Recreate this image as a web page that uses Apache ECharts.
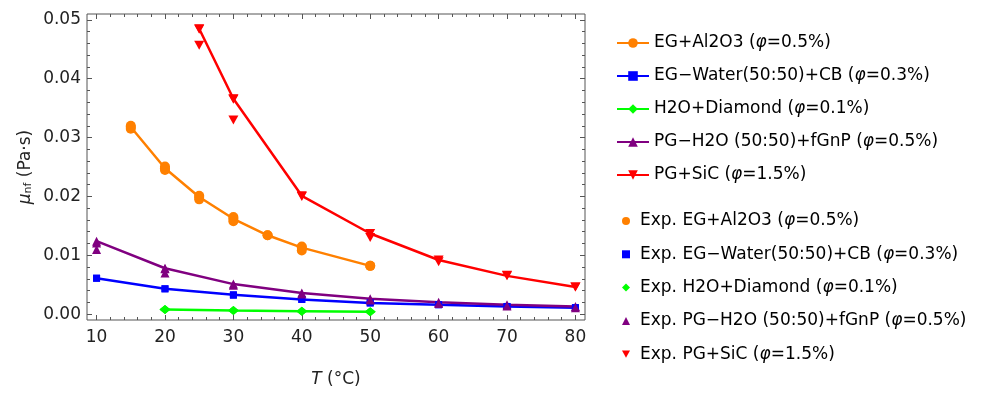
<!DOCTYPE html>
<html>
<head>
<meta charset="utf-8">
<script src="https://cdn.jsdelivr.net/npm/echarts@6/dist/echarts.min.js"></script>
<style>
  html, body { margin: 0; padding: 0; background: #fff; }
  #chart { width: 999px; height: 393px; }
</style>
</head>
<body>
<div id="chart"></div>
<script>
// legend names
const names = [
  'EG+Al2O3 (φ=0.5%)',
  'EG−Water(50:50)+CB (φ=0.3%)',
  'H2O+Diamond (φ=0.1%)',
  'PG−H2O (50:50)+fGnP (φ=0.5%)',
  'PG+SiC (φ=1.5%)'
]
const colors = ['#ff8000', '#0000ff', '#00ff00', '#800080', '#ff0000']

// model curves
const al2o3T = [15, 20, 25, 30, 35, 40, 50]
const al2o3Model = [0.0318, 0.0248, 0.0199, 0.0162, 0.0134, 0.0113, 0.0082]
const cbT = [10, 20, 30, 40, 50, 60, 70, 80]
const cbModel = [0.0061, 0.0043, 0.0033, 0.0025, 0.0019, 0.0016, 0.0013, 0.0011]
const diamondT = [20, 30, 40, 50]
const diamondModel = [0.0008, 0.0006, 0.0005, 0.0004]
const fgnpT = [10, 20, 30, 40, 50, 60, 70, 80]
const fgnpModel = [0.0124, 0.0078, 0.0051, 0.0036, 0.0026, 0.0020, 0.0016, 0.0013]
const sicT = [25, 30, 40, 50, 60, 70, 80]
const sicModel = [0.0485, 0.0366, 0.0201, 0.0137, 0.0092, 0.0065, 0.0046]

// experimental points
const al2o3ExpT = [15, 15, 20, 20, 25, 25, 30, 30, 35, 40, 40, 50]
const al2o3Exp = [0.0320, 0.0315, 0.0251, 0.0245, 0.0201, 0.0195, 0.0165, 0.0158, 0.0134, 0.0115, 0.0108, 0.0082]
const cbExpT = [10, 20, 30, 40, 50, 60, 70, 80]
const cbExp = [0.0061, 0.0043, 0.0032, 0.0025, 0.0019, 0.0016, 0.0013, 0.0011]
const diamondExpT = [20, 30, 40, 50]
const diamondExp = [0.0008, 0.0006, 0.0005, 0.0004]
const fgnpExpT = [10, 10, 20, 20, 30, 40, 50, 60, 70, 80]
const fgnpExp = [0.0121, 0.0110, 0.0077, 0.0070, 0.0049, 0.0034, 0.0024, 0.0018, 0.0014, 0.0011]
const sicExpT = [25, 25, 30, 30, 40, 50, 60, 70, 80]
const sicExp = [0.0484, 0.0457, 0.0365, 0.0330, 0.0200, 0.0130, 0.0089, 0.0066, 0.0046]

// ticks
const xMajor = [10, 20, 30, 40, 50, 60, 70, 80]
const xMinor = [12, 14, 16, 18, 22, 24, 26, 28, 32, 34, 36, 38, 42, 44, 46, 48, 52, 54, 56, 58, 62, 64, 66, 68, 72, 74, 76, 78]
const yMajor = [0, 0.01, 0.02, 0.03, 0.04, 0.05]
const yMinor = [0.002, 0.004, 0.006, 0.008, 0.012, 0.014, 0.016, 0.018, 0.022, 0.024, 0.026, 0.028,
  0.032, 0.034, 0.036, 0.038, 0.042, 0.044, 0.046, 0.048]

const FONT = 'DejaVu Sans'
const invTri = 'path://M0,0L10,0L5,9Z'
const symbols = ['circle', 'rect', 'diamond', 'triangle', invTri]
const symSize = [10, 7, [11, 9], 9, [10, 9]]

const modelT = [al2o3T, cbT, diamondT, fgnpT, sicT]
const modelV = [al2o3Model, cbModel, diamondModel, fgnpModel, sicModel]
const expT = [al2o3ExpT, cbExpT, diamondExpT, fgnpExpT, sicExpT]
const expV = [al2o3Exp, cbExp, diamondExp, fgnpExp, sicExp]

const pair = (xs, ys) => xs.map((x, i) => [x, ys[i]])

const series = []
names.forEach((name, k) => {
  series.push({
    name: name,
    type: 'line',
    data: pair(modelT[k], modelV[k]),
    symbol: symbols[k],
    symbolSize: symSize[k],
    showSymbol: true,
    lineStyle: { width: 2.5, color: colors[k] },
    itemStyle: { color: colors[k] },
    z: 2
  })
})
names.forEach((name, k) => {
  series.push({
    name: 'Exp. ' + name,
    type: 'scatter',
    data: pair(expT[k], expV[k]),
    symbol: symbols[k],
    symbolSize: symSize[k],
    itemStyle: { color: colors[k], opacity: 1 },
    z: 3
  })
})

const richLegend = {
  g: { width: 5 },
  t: { fontFamily: FONT, fontSize: 17, color: '#000' },
  i: { fontFamily: FONT, fontSize: 17, color: '#000', fontStyle: 'italic' }
}
const legendFmt = (name) => '{t|' + name.replace('φ', '}{i|φ}{t|') + '}'
const expLegendFmt = (name) => '{g|}' + legendFmt(name)

const frame = '#555'
const X_MIN = 8.6
const X_MAX = 81.4
const Y_MIN = -0.001
const Y_MAX = 0.051

function tickAxis(pos, vals, len) {
  const horizontal = pos === 'top' || pos === 'bottom'
  return {
    type: 'value',
    position: pos,
    min: horizontal ? X_MIN : Y_MIN,
    max: horizontal ? X_MAX : Y_MAX,
    axisLine: { show: false, onZero: false },
    splitLine: { show: false },
    axisLabel: { show: false },
    axisTick: { inside: true, length: len, customValues: vals, lineStyle: { color: frame } }
  }
}

const bottomAxis = tickAxis('bottom', xMajor, 5)
bottomAxis.axisLabel = { customValues: xMajor, margin: 9, fontFamily: FONT, fontSize: 17, color: '#222' }
bottomAxis.name = '{i|T} (°C)'
bottomAxis.nameLocation = 'middle'
bottomAxis.nameGap = 51
bottomAxis.nameTextStyle = {
  fontFamily: FONT, fontSize: 17, color: '#222',
  rich: { i: { fontFamily: FONT, fontSize: 17, fontStyle: 'italic', color: '#222' } }
}

const leftAxis = tickAxis('left', yMajor, 5)
leftAxis.axisLabel = {
  customValues: yMajor, margin: 6, fontFamily: FONT, fontSize: 17, color: '#222',
  padding: [6, 0, 0, 0],
  formatter: v => v.toFixed(2)
}
leftAxis.name = '{i|μ}{s|nf} (Pa·s)'
leftAxis.nameLocation = 'middle'
leftAxis.nameGap = 53
leftAxis.nameTextStyle = {
  fontFamily: FONT, fontSize: 17, color: '#222',
  rich: {
    i: { fontFamily: FONT, fontSize: 17, fontStyle: 'italic', color: '#222' },
    s: { fontFamily: FONT, fontSize: 11, color: '#222', verticalAlign: 'bottom', padding: [6, 0, 0, 0] }
  }
}

const chart = echarts.init(document.getElementById('chart'))
chart.setOption({
  animation: false,
  grid: { left: 87, right: 414, top: 14, bottom: 71, show: true, borderColor: frame, borderWidth: 1 },
  legend: [
    {
      data: names,
      orient: 'vertical',
      left: 611,
      top: 28,
      itemWidth: 32,
      itemHeight: 12,
      itemGap: 13,
      formatter: legendFmt,
      textStyle: { lineHeight: 20, rich: richLegend }
    },
    {
      data: names.map(n => 'Exp. ' + n),
      orient: 'vertical',
      left: 617,
      top: 206,
      itemWidth: 8,
      itemHeight: 8,
      itemGap: 13.3,
      formatter: expLegendFmt,
      textStyle: { lineHeight: 20, rich: richLegend }
    }
  ],
  xAxis: [
    bottomAxis,
    tickAxis('bottom', xMinor, 3),
    tickAxis('top', xMajor, 5),
    tickAxis('top', xMinor, 3)
  ],
  yAxis: [
    leftAxis,
    tickAxis('left', yMinor, 3),
    tickAxis('right', yMajor, 5),
    tickAxis('right', yMinor, 3)
  ],
  series: series
})
</script>
</body>
</html>
